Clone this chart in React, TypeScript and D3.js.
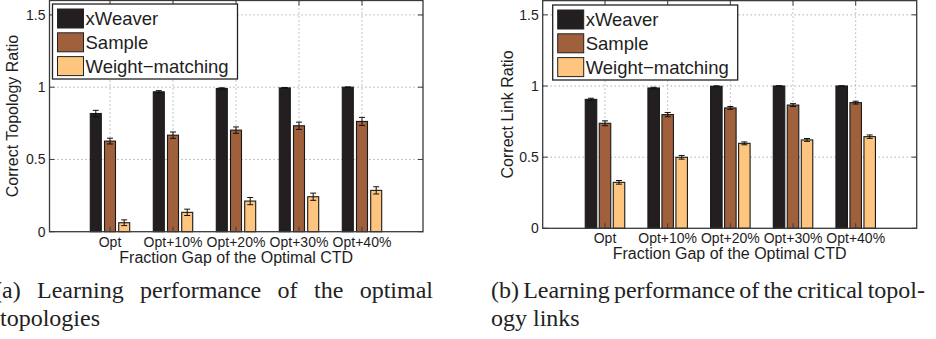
import React, { useLayoutEffect, useRef } from "react";
import * as d3 from "d3";

const categories = ["Opt", "Opt+10%", "Opt+20%", "Opt+30%", "Opt+40%"];
const seriesNames = ["xWeaver", "Sample", "Weight\u2212matching"];
const seriesColors = ["#231f20", "#a0603c", "#fec57e"];
const yTicks = [0, 0.5, 1, 1.5];
const yTickLabels = ["0", "0.5", "1", "1.5"];

// Panel (a): correct topology ratio
const topoXWeaver = [0.818, 0.968, 0.991, 0.995, 1.0];
const topoSample = [0.627, 0.668, 0.703, 0.733, 0.763];
const topoWeight = [0.062, 0.134, 0.212, 0.242, 0.286];
const topoXWeaverErr = [0.022, 0.008, 0.005, 0.003, 0.002];
const topoSampleErr = [0.02, 0.022, 0.022, 0.025, 0.028];
const topoWeightErr = [0.02, 0.022, 0.025, 0.025, 0.025];

// Panel (b): correct link ratio
const linkXWeaver = [0.906, 0.986, 0.998, 1.0, 1.0];
const linkSample = [0.738, 0.799, 0.846, 0.866, 0.883];
const linkWeight = [0.323, 0.499, 0.597, 0.621, 0.644];
const linkXWeaverErr = [0.008, 0.005, 0.003, 0.002, 0.001];
const linkSampleErr = [0.017, 0.015, 0.01, 0.01, 0.01];
const linkWeightErr = [0.013, 0.013, 0.01, 0.01, 0.012];

const SANS = "'Liberation Sans', Arial, Helvetica, sans-serif";
const SERIF = "'Liberation Serif', 'Times New Roman', serif";

type PanelProps = {
  left: number;
  right: number;
  c1: number;
  c5: number;
  y0: number;
  y1: number;
  values: number[][];
  errors: number[][];
  ylabel: string;
  ylabelX: number;
  legendX: number;
  legendY: number;
  barW: number;
  barStep: number;
};

function Panel(p: PanelProps) {
  const x = d3.scaleLinear().domain([1, 5]).range([p.c1, p.c5]);
  const y = d3.scaleLinear().domain([0, 1]).range([p.y0, p.y1]);
  const top = y(1.6);
  const bottom = y(0);
  const grid = "#8a8a8a";
  const frame = "#3a3a3a";
  const legW = 185;
  const legH = 75;
  return (
    <g>
      {yTicks.slice(1).map((t) => (
        <line key={"gy" + t} x1={p.left} x2={p.right} y1={y(t)} y2={y(t)} stroke={grid} strokeWidth={1} strokeDasharray="1 3" />
      ))}
      {categories.map((c, i) => (
        <line key={"gx" + c} x1={x(i + 1)} x2={x(i + 1)} y1={top} y2={bottom} stroke={grid} strokeWidth={1} strokeDasharray="1 3" />
      ))}
      {p.values.map((vals, s) =>
        vals.map((v, i) => {
          const cx = x(i + 1) + (s - 1) * p.barStep;
          return (
            <rect key={"b" + s + "-" + i} x={cx - p.barW / 2} y={y(v)} width={p.barW} height={bottom - y(v)}
              fill={seriesColors[s]} stroke="#1a1a1a" strokeWidth={1.1} />
          );
        })
      )}
      {p.values.map((vals, s) =>
        vals.map((v, i) => {
          const cx = x(i + 1) + (s - 1) * p.barStep;
          const e = p.errors[s][i];
          const hi = y(v + e);
          const lo = y(v - e);
          return (
            <g key={"e" + s + "-" + i} stroke="#111" strokeWidth={1}>
              <line x1={cx} x2={cx} y1={hi} y2={lo} />
              <line x1={cx - 3} x2={cx + 3} y1={hi} y2={hi} />
              <line x1={cx - 3} x2={cx + 3} y1={lo} y2={lo} />
            </g>
          );
        })
      )}
      {yTicks.map((t) => (
        <g key={"t" + t} stroke={frame} strokeWidth={1}>
          <line x1={p.left} x2={p.left + 5} y1={y(t)} y2={y(t)} />
          <line x1={p.right} x2={p.right - 5} y1={y(t)} y2={y(t)} />
        </g>
      ))}
      {categories.map((c, i) => (
        <g key={"tx" + c} stroke={frame} strokeWidth={1}>
          <line x1={x(i + 1)} x2={x(i + 1)} y1={top} y2={top + 5} />
          <line x1={x(i + 1)} x2={x(i + 1)} y1={bottom} y2={bottom - 5} />
        </g>
      ))}
      <rect x={p.left} y={top} width={p.right - p.left} height={bottom - top} fill="none" stroke={frame} strokeWidth={1.3} />
      {yTicks.map((t, i) => (
        <text key={"yl" + t} x={p.left - 4} y={y(t)} dy="0.36em" textAnchor="end" fontFamily={SANS} fontSize={14} fill="#1e1e1e">
          {yTickLabels[i]}
        </text>
      ))}
      {categories.map((c, i) => (
        <text key={"xl" + c} x={x(i + 1)} y={bottom + 15} textAnchor="middle" fontFamily={SANS} fontSize={14} fill="#1e1e1e">
          {c}
        </text>
      ))}
      <text x={(p.left + p.right) / 2} y={bottom + 31} textAnchor="middle" fontFamily={SANS} fontSize={16} fill="#1e1e1e">
        Fraction Gap of the Optimal CTD
      </text>
      <text transform={`translate(${p.ylabelX},${(top + bottom) / 2}) rotate(-90)`} dy="0.35em" textAnchor="middle" fontFamily={SANS} fontSize={16} fill="#1e1e1e">
        {p.ylabel}
      </text>
      <g>
        <rect x={p.legendX} y={p.legendY} width={legW} height={legH} fill="#fff" stroke="#222" strokeWidth={1.3} />
        {seriesNames.map((n, s) => (
          <g key={"lg" + s}>
            <rect x={p.legendX + 5} y={p.legendY + 5 + s * 23.8} width={26} height={19} fill={seriesColors[s]} stroke="#222" strokeWidth={1} />
            <text x={p.legendX + 33} y={p.legendY + 5 + s * 23.8 + 16} fontFamily={SANS} fontSize={18.5} fill="#1e1e1e">
              {n}
            </text>
          </g>
        ))}
      </g>
    </g>
  );
}

function JustLine({ x, y, width, text }: { x: number; y: number; width: number; text: string }) {
  const ref = useRef<SVGTextElement>(null);
  useLayoutEffect(() => {
    const el = ref.current;
    if (!el) return;
    el.style.wordSpacing = "0px";
    const natural = el.getComputedTextLength();
    const gaps = text.split(" ").length - 1;
    if (gaps > 0) el.style.wordSpacing = `${(width - natural) / gaps}px`;
  }, [text, width]);
  return (
    <text ref={ref} x={x} y={y} fontFamily={SERIF} fontSize={24} fill="#222">
      {text}
    </text>
  );
}

export default function App() {
  return (
    <svg width={936} height={339} style={{ display: "block", position: "absolute", left: 0, top: 0, background: "#fff" }}>
      <Panel left={49.5} right={423} c1={110} c5={362} y0={231.7} y1={87.2}
        values={[topoXWeaver, topoSample, topoWeight]} errors={[topoXWeaverErr, topoSampleErr, topoWeightErr]}
        ylabel="Correct Topology Ratio" ylabelX={12} legendX={52.5} legendY={4} barW={11} barStep={14.2} />
      <Panel left={542.7} right={916.7} c1={605} c5={855.7} y0={228.3} y1={86}
        values={[linkXWeaver, linkSample, linkWeight]} errors={[linkXWeaverErr, linkSampleErr, linkWeightErr]}
        ylabel="Correct Link Ratio" ylabelX={507} legendX={552.7} legendY={5} barW={11.5} barStep={14} />
      <JustLine x={-6} y={298} width={439} text="(a) Learning performance of the optimal" />
      <text x={0} y={326} fontFamily={SERIF} fontSize={24} fill="#222">topologies</text>
      <JustLine x={491} y={298} width={434} text="(b) Learning performance of the critical topol-" />
      <text x={491} y={326} fontFamily={SERIF} fontSize={24} fill="#222">ogy links</text>
    </svg>
  );
}
